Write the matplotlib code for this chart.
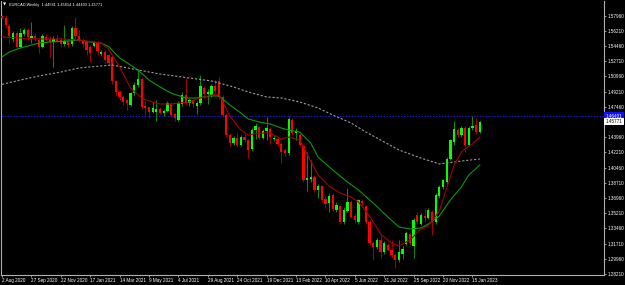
import numpy as np
import matplotlib.pyplot as plt

# EURCAD weekly candles, 2 Aug 2020 .. 29 Jan 2023
header = "EURCAD,Weekly  1.44581 1.45814 1.44403 1.45771"
date_labels = ["2 Aug 2020", "27 Sep 2020", "22 Nov 2020", "17 Jan 2021", "14 Mar 2021",
               "9 May 2021", "4 Jul 2021", "29 Aug 2021", "24 Oct 2021", "19 Dec 2021",
               "13 Feb 2022", "10 Apr 2022", "5 Jun 2022", "31 Jul 2022", "25 Sep 2022",
               "20 Nov 2022", "15 Jan 2023"]
price_ticks = [1.57960, 1.56210, 1.54460, 1.52710, 1.50960, 1.49210, 1.47460,
               1.43960, 1.42210, 1.40460, 1.38710, 1.36960, 1.35210, 1.33460,
               1.31710, 1.29960, 1.28210]
line_price = 1.46401
bid_price = 1.45771

opens = [1.5790, 1.5775, 1.5680, 1.5530, 1.5600, 1.5440, 1.5590, 1.5630, 1.5540, 1.5565,
         1.5515, 1.5435, 1.5555, 1.5530, 1.5490, 1.5530, 1.5520, 1.5470, 1.5500, 1.5470,
         1.5650, 1.5560, 1.5520, 1.5490, 1.5440, 1.5450, 1.5480, 1.5360, 1.5380, 1.5340,
         1.5320, 1.5040, 1.4920, 1.4860, 1.4820, 1.4770, 1.4900, 1.5000, 1.5070, 1.4760,
         1.4740, 1.4690, 1.4690, 1.4720, 1.4670, 1.4700, 1.4780, 1.4660, 1.4600, 1.4780,
         1.4880, 1.4790, 1.4820, 1.4760, 1.4790, 1.4960, 1.4890, 1.4880, 1.4990, 1.5040,
         1.4860, 1.4650, 1.4420, 1.4330, 1.4390, 1.4310, 1.4400, 1.4360, 1.4260, 1.4480,
         1.4510, 1.4390, 1.4470, 1.4490, 1.4370, 1.4380, 1.4320, 1.4250, 1.4210, 1.4600,
         1.4450, 1.4420, 1.4290, 1.3900, 1.3910, 1.3940, 1.3790, 1.3830, 1.3690, 1.3640,
         1.3730, 1.3560, 1.3600, 1.3420, 1.3550, 1.3650, 1.3490, 1.3420, 1.3665, 1.3600,
         1.3420, 1.3180, 1.3130, 1.3210, 1.3070, 1.3160, 1.3100, 1.3040, 1.2980, 1.3050,
         1.3170, 1.3280, 1.3140, 1.3500, 1.3400, 1.3490, 1.3470, 1.3540, 1.3420, 1.3720,
         1.3820, 1.3880, 1.4150, 1.4340, 1.4480, 1.4420, 1.4500, 1.4310, 1.4500, 1.4540,
         1.44581]
highs = [1.5805, 1.5800, 1.5700, 1.5620, 1.5620, 1.5650, 1.5660, 1.5650, 1.5725, 1.5600,
         1.5530, 1.5590, 1.5580, 1.5560, 1.5560, 1.5570, 1.5540, 1.5690, 1.5520, 1.5680,
         1.5780, 1.5630, 1.5540, 1.5510, 1.5460, 1.5500, 1.5500, 1.5400, 1.5400, 1.5360,
         1.5340, 1.5060, 1.4940, 1.4880, 1.4840, 1.4920, 1.5030, 1.5180, 1.5090, 1.4810,
         1.4760, 1.4800, 1.4830, 1.4740, 1.4720, 1.4810, 1.4800, 1.4680, 1.4810, 1.4920,
         1.5080, 1.4850, 1.4840, 1.4810, 1.5110, 1.4990, 1.4950, 1.5010, 1.5050, 1.5090,
         1.4880, 1.4670, 1.4440, 1.4410, 1.4440, 1.4420, 1.4450, 1.4380, 1.4500, 1.4560,
         1.4530, 1.4490, 1.4630, 1.4510, 1.4420, 1.4400, 1.4340, 1.4270, 1.4630, 1.4620,
         1.4500, 1.4440, 1.4310, 1.4230, 1.4130, 1.3960, 1.3860, 1.3850, 1.3720, 1.3750,
         1.3750, 1.3650, 1.3620, 1.3590, 1.3810, 1.3670, 1.3510, 1.3690, 1.3690, 1.3620,
         1.3440, 1.3200, 1.3230, 1.3270, 1.3200, 1.3180, 1.3210, 1.3060, 1.3210, 1.3140,
         1.3310, 1.3300, 1.3460, 1.3540, 1.3520, 1.3580, 1.3580, 1.3560, 1.3750, 1.3840,
         1.3920, 1.4170, 1.4380, 1.4580, 1.4500, 1.4520, 1.4520, 1.4520, 1.4640, 1.4620,
         1.45814]
lows = [1.5765, 1.5670, 1.5480, 1.5490, 1.5420, 1.5420, 1.5560, 1.5520, 1.5480, 1.5510,
        1.5370, 1.5420, 1.5500, 1.5320, 1.5200, 1.5490, 1.5440, 1.5450, 1.5440, 1.5450,
        1.5530, 1.5490, 1.5440, 1.5340, 1.5260, 1.5430, 1.5340, 1.5330, 1.5250, 1.5230,
        1.5010, 1.4880, 1.4830, 1.4770, 1.4710, 1.4750, 1.4880, 1.4970, 1.4720, 1.4630,
        1.4620, 1.4670, 1.4580, 1.4660, 1.4640, 1.4690, 1.4630, 1.4580, 1.4580, 1.4760,
        1.4770, 1.4760, 1.4740, 1.4660, 1.4770, 1.4850, 1.4780, 1.4860, 1.4910, 1.4840,
        1.4630, 1.4400, 1.4290, 1.4310, 1.4290, 1.4290, 1.4340, 1.4160, 1.4240, 1.4380,
        1.4370, 1.4370, 1.4360, 1.4320, 1.4350, 1.4300, 1.4100, 1.4180, 1.4190, 1.4420,
        1.4360, 1.4290, 1.3880, 1.3780, 1.3880, 1.3770, 1.3700, 1.3650, 1.3580, 1.3530,
        1.3550, 1.3540, 1.3400, 1.3400, 1.3530, 1.3460, 1.3410, 1.3400, 1.3600, 1.3400,
        1.3160, 1.2980, 1.3110, 1.3010, 1.3050, 1.3080, 1.3020, 1.2890, 1.2960, 1.2990,
        1.3150, 1.3160, 1.3000, 1.3400, 1.3380, 1.3420, 1.3450, 1.3270, 1.3400, 1.3700,
        1.3800, 1.3860, 1.4130, 1.4310, 1.4400, 1.4400, 1.4230, 1.4290, 1.4480, 1.4430,
        1.44403]
closes = [1.5775, 1.5690, 1.5560, 1.5600, 1.5440, 1.5600, 1.5630, 1.5550, 1.5565, 1.5535,
          1.5435, 1.5560, 1.5520, 1.5490, 1.5530, 1.5500, 1.5470, 1.5510, 1.5460, 1.5650,
          1.5560, 1.5520, 1.5470, 1.5400, 1.5370, 1.5480, 1.5390, 1.5380, 1.5280, 1.5250,
          1.5040, 1.4920, 1.4860, 1.4800, 1.4790, 1.4900, 1.5000, 1.5070, 1.4745, 1.4730,
          1.4690, 1.4730, 1.4720, 1.4680, 1.4700, 1.4790, 1.4650, 1.4620, 1.4790, 1.4880,
          1.4790, 1.4830, 1.4780, 1.4790, 1.4990, 1.4890, 1.4920, 1.4990, 1.4930, 1.4860,
          1.4650, 1.4420, 1.4330, 1.4390, 1.4310, 1.4400, 1.4360, 1.4250, 1.4480, 1.4520,
          1.4390, 1.4470, 1.4500, 1.4400, 1.4390, 1.4320, 1.4230, 1.4210, 1.4610, 1.4450,
          1.4470, 1.4310, 1.3900, 1.3930, 1.3940, 1.3790, 1.3830, 1.3670, 1.3630, 1.3720,
          1.3570, 1.3620, 1.3420, 1.3560, 1.3650, 1.3480, 1.3440, 1.3670, 1.3640, 1.3420,
          1.3180, 1.3130, 1.3210, 1.3070, 1.3180, 1.3100, 1.3040, 1.2980, 1.3070, 1.3110,
          1.3290, 1.3180, 1.3440, 1.3420, 1.3500, 1.3470, 1.3560, 1.3420, 1.3730, 1.3820,
          1.3900, 1.4150, 1.4360, 1.4490, 1.4420, 1.4500, 1.4310, 1.4500, 1.4520, 1.4458,
          1.45771]

# moving averages (week index, price)
fast_weeks = [0, 5, 10, 16, 21, 27, 29, 32, 35, 38, 40, 43, 46, 48, 51, 54, 57, 59, 62, 65,
              67, 70, 73, 76, 78, 81, 84, 86, 89, 92, 95, 97, 100, 103, 106, 108, 111, 114,
              116, 119, 121, 123, 125, 126, 128, 130]
fast_vals = [1.5551, 1.5539, 1.5528, 1.5528, 1.5516, 1.5481, 1.5412, 1.5205, 1.4963, 1.4848,
             1.4813, 1.4779, 1.4779, 1.4790, 1.4802, 1.4848, 1.4882, 1.4895, 1.4640, 1.4479,
             1.4421, 1.4444, 1.4444, 1.4375, 1.4398, 1.4364, 1.4122, 1.3961, 1.3834, 1.3754,
             1.3707, 1.3650, 1.3488, 1.3281, 1.3177, 1.3143, 1.3212, 1.3339, 1.3373, 1.3546,
             1.3811, 1.4076, 1.4225, 1.4260, 1.4318, 1.4398]
mid_weeks = [0, 2, 5, 8, 10, 13, 18, 21, 24, 27, 29, 32, 37, 40, 43, 46, 50, 53, 57, 59,
             62, 65, 67, 70, 73, 76, 78, 81, 84, 86, 90, 94, 97, 101, 105, 108, 111, 114,
             116, 119, 122, 125, 127, 130]
mid_vals = [1.5320, 1.5378, 1.5424, 1.5458, 1.5481, 1.5493, 1.5505, 1.5516, 1.5493, 1.5481,
            1.5440, 1.5310, 1.5171, 1.5055, 1.4975, 1.4905, 1.4848, 1.4848, 1.4871, 1.4871,
            1.4767, 1.4675, 1.4606, 1.4571, 1.4548, 1.4502, 1.4479, 1.4456, 1.4329, 1.4168,
            1.4018, 1.3880, 1.3788, 1.3638, 1.3477, 1.3362, 1.3339, 1.3350, 1.3396, 1.3488,
            1.3673, 1.3823, 1.3961, 1.4076]
slow_weeks = [0, 5, 10, 16, 21, 27, 30, 37, 43, 49, 57, 63, 67, 72, 76, 81, 86, 90, 95, 99,
              104, 108, 114, 119, 121, 125, 130]
slow_vals = [1.5005, 1.5055, 1.5101, 1.5147, 1.5194, 1.5217, 1.5228, 1.5171, 1.5124, 1.5090,
             1.5044, 1.4975, 1.4917, 1.4860, 1.4848, 1.4802, 1.4733, 1.4652, 1.4560, 1.4456,
             1.4341, 1.4249, 1.4156, 1.4088, 1.4099, 1.4122, 1.4145]

plt.rcParams['font.family'] = ['Liberation Sans', 'DejaVu Sans']
FS = 3.3

fig = plt.figure(figsize=(6.25, 2.85), dpi=100, facecolor='black')
ax = fig.add_axes([1 / 625, 10 / 285, 603 / 625, 274 / 285], facecolor='black')

o = np.array(opens)
h = np.array(highs)
l = np.array(lows)
c = np.array(closes)
x = np.arange(len(o))
up = c >= o

# wicks
ax.vlines(x[up], l[up], h[up], color='#0a8a0a', lw=0.75, zorder=2)
ax.vlines(x[~up], l[~up], h[~up], color='#a00000', lw=0.75, zorder=2)
# bodies
body = np.maximum(np.abs(c - o), 0.0008)
ax.bar(x[up], body[up], bottom=np.minimum(o, c)[up], width=0.62, color='#00ff00', lw=0, zorder=3)
ax.bar(x[~up], body[~up], bottom=np.minimum(o, c)[~up], width=0.62, color='#ff0000', lw=0, zorder=3)

# moving averages
ax.plot(slow_weeks, slow_vals, color='#9a9a9a', lw=0.8, ls=(0, (2, 1.6)), zorder=4)
ax.plot(mid_weeks, mid_vals, color='#0a9a0a', lw=0.8, zorder=4)
ax.plot(fast_weeks, fast_vals, color='#a80000', lw=0.8, zorder=4)

# horizontal line
ax.axhline(line_price, color='#1a1ad0', lw=0.7, ls=(0, (1.5, 1.5)), zorder=1)

ax.set_xlim(-0.27, 163.8)
ax.set_ylim(1.28088, 1.59653)

ax.spines['top'].set_visible(False)
for s in ['left', 'right', 'bottom']:
    ax.spines[s].set_color('#b0b0b0')
    ax.spines[s].set_linewidth(0.8)

ax.yaxis.tick_right()
ax.set_yticks(price_ticks)
ax.set_yticklabels(['%.5f' % p for p in price_ticks])
ax.set_xticks(np.arange(len(date_labels)) * 8)
ax.set_xticklabels(date_labels)
ax.tick_params(axis='both', colors='#b0b0b0', labelcolor='white', labelsize=FS,
               length=1.6, width=0.6, pad=1)
ax.tick_params(axis='x', pad=0.6)
for lab in ax.get_xticklabels():
    lab.set_ha('left')

# price boxes on the right scale
ax.text(1.003, line_price, '%.5f' % line_price, transform=ax.get_yaxis_transform(),
        fontsize=FS, color='white', va='center', ha='left',
        bbox=dict(boxstyle='square,pad=0.3', fc='#1010ff', ec='#1010ff', lw=0))
ax.text(1.003, bid_price, '%.5f' % bid_price, transform=ax.get_yaxis_transform(),
        fontsize=FS, color='black', va='center', ha='left',
        bbox=dict(boxstyle='square,pad=0.3', fc='white', ec='white', lw=0))

fig.text(3 / 625, 1 - 5 / 285, '\u25bc', fontsize=3.0, color='white', va='center', ha='left',
         family=['DejaVu Sans'])
fig.text(9 / 625, 1 - 5 / 285, header, fontsize=2.8, color='white', va='center', ha='left')

fig.savefig('out.png', dpi=100, facecolor='black')
